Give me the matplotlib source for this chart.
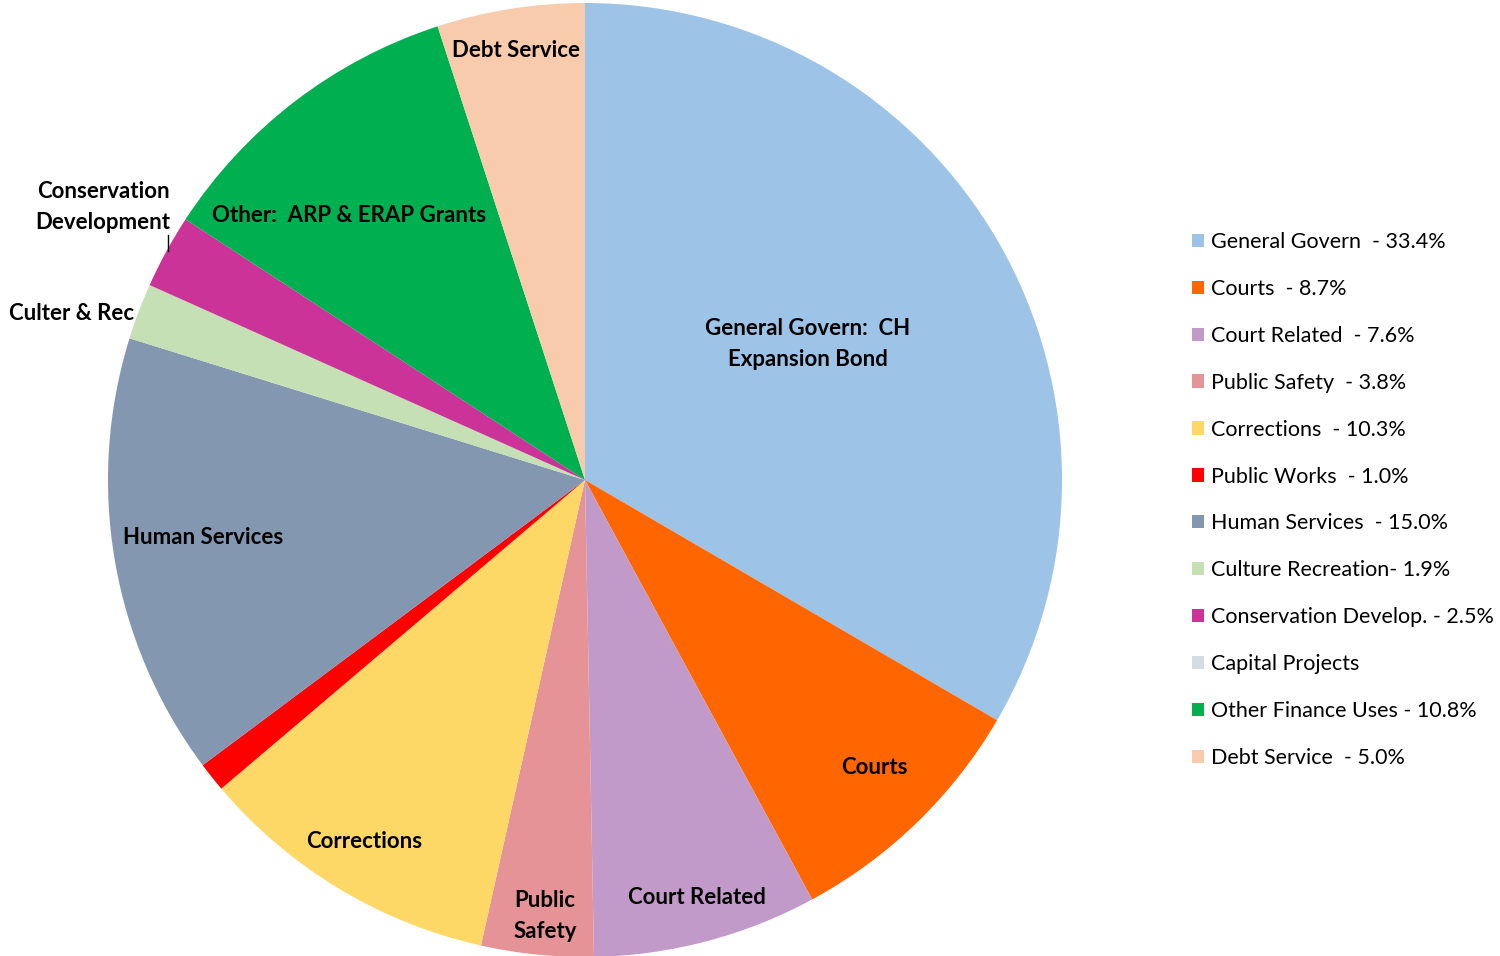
import matplotlib
matplotlib.use("Agg")
import matplotlib.pyplot as plt

categories = ["General Govern", "Courts", "Court Related", "Public Safety", "Corrections",
              "Public Works", "Human Services", "Culture Recreation", "Conservation Develop.",
              "Capital Projects", "Other Finance Uses", "Debt Service"]
values = [33.4, 8.7, 7.6, 3.8, 10.3, 1.0, 15.0, 1.9, 2.5, 0.0, 10.8, 5.0]
legend_labels = ["General Govern  - 33.4%", "Courts  - 8.7%", "Court Related  - 7.6%",
                 "Public Safety  - 3.8%", "Corrections  - 10.3%", "Public Works  - 1.0%",
                 "Human Services  - 15.0%", "Culture Recreation- 1.9%",
                 "Conservation Develop. - 2.5%", "Capital Projects",
                 "Other Finance Uses - 10.8%", "Debt Service  - 5.0%"]
colors = ["#9DC3E6", "#FF6600", "#C29ACA", "#E59396", "#FDD866", "#FF0000",
          "#8497B0", "#C5E0B4", "#CC3399", "#D6DCE5", "#00B050", "#F8CBAD"]

slice_labels = [
    ("General Govern:  CH\nExpansion Bond", 808, 344),
    ("Courts", 874, 768),
    ("Court Related", 697, 898),
    ("Public\nSafety", 545, 916),
    ("Corrections", 364, 842),
    ("Human Services", 203, 537),
    ("Culter & Rec", 72, 313),
    ("Conservation\nDevelopment", 103, 207),
    ("Other:  ARP & ERAP Grants", 349, 215),
    ("Debt Service", 516, 50),
]

W, H = 1500, 956
fig = plt.figure(figsize=(15, 9.56), dpi=100)
ax = fig.add_axes([0, 0, 1, 1])

# y axis is inverted (pixel-like coords): -90 deg points up on screen,
# counterclockwise in data space runs clockwise on screen
wedges, _ = ax.pie(values, colors=colors, startangle=-90, counterclock=True,
                   center=(585, 480), radius=477, frame=True)
ax.set_xlim(0, W)
ax.set_ylim(H, 0)
ax.axis("off")

for txt, x, y in slice_labels:
    ax.text(x, y, txt, ha="center", va="center", fontsize=16, fontweight="bold",
            family="Lato", linespacing=1.55, color="black")

ax.plot([168, 168], [235, 251], color="black", lw=1)

leg = ax.legend(wedges, legend_labels, loc="upper left",
                bbox_to_anchor=(1192 / W, 1 - 232 / H),
                frameon=False, prop={"family": "Lato", "size": 15.5},
                handlelength=0.57, handleheight=0.57, handletextpad=0.3,
                labelspacing=1.25, borderaxespad=0, borderpad=0)

fig.savefig("out.png", dpi=100)
